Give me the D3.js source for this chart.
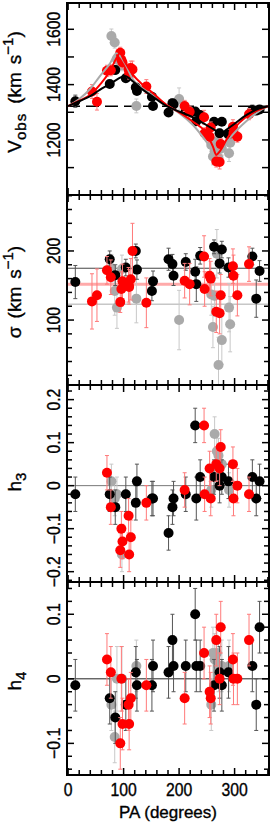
<!DOCTYPE html>
<html>
<head>
<script type="text/javascript" src="https://cdn.jsdelivr.net/npm/d3@7"></script>
<style>
  body { margin: 0; background: #fff; }
  text { font-family: "Liberation Sans", Arial, Helvetica, sans-serif; fill: #000; stroke: #000; stroke-width: 0.35px; }
</style>
</head>
<body>
<script type="text/javascript">

// ---- data ----
var paTicks = [0, 100, 200, 300];
var vTicks = [1200, 1400, 1600];
var sigTicks = [100, 200];
var h3Ticks = [-0.2, -0.1, 0, 0.1, 0.2];
var h4Ticks = [-0.1, 0, 0.1];

var vSys = 1322;
var sigMeanBlack = 175, sigMeanRed = 152, sigMeanGrey = 123;

// model curves (panel 1)
var modelPA    = [0, 20, 40, 57, 75, 87, 93, 102, 117, 135, 153, 177, 201, 225, 249, 261, 267, 273, 277, 285, 297, 321, 345, 360];
var modelBlack = [1322, 1340, 1358, 1381, 1402, 1417, 1424, 1431, 1411, 1381, 1356, 1323, 1302, 1282, 1254, 1240, 1233, 1228, 1226, 1237, 1254, 1290, 1314, 1322];
var modelRed   = [1322, 1342, 1363, 1399, 1447, 1495, 1513, 1483, 1435, 1399, 1369, 1327, 1299, 1266, 1224, 1176, 1146, 1158, 1170, 1200, 1236, 1284, 1310, 1322];
var modelGrey  = [1322, 1348, 1385, 1430, 1475, 1513, 1505, 1478, 1418, 1385, 1362, 1327, 1296, 1254, 1194, 1160, 1146, 1150, 1160, 1188, 1220, 1268, 1305, 1322];

// black series
var blackPA     = [13, 75, 85, 104, 122, 124, 151, 153, 181, 188, 190, 212, 229, 231, 238, 263, 273, 277, 289, 332, 339, 345];
var blackV      = [1340, 1402, 1453, 1423, 1390, 1377, 1356, 1323, 1299, 1333, 1328, 1304, 1303, 1268, 1290, 1266, 1224, 1266, 1220, 1308, 1306, 1310];
var blackVErr   = [22, 12, 15, 10, 12, 12, 12, 12, 10, 15, 12, 12, 12, 12, 12, 12, 15, 12, 12, 18, 12, 12];
var blackSig    = [155, 188, 165, 176, 200, 173, 142, 156, 188, 181, 164, 184, 170, 152, 193, 206, 182, 202, 176, 192, 131, 171];
var blackSigErr = [24, 12, 15, 12, 10, 14, 14, 15, 16, 14, 14, 12, 18, 25, 12, 10, 14, 12, 14, 12, 27, 15];
var blackH3     = [-0.02, -0.02, -0.05, -0.02, -0.04, 0.01, -0.03, -0.03, -0.11, -0.05, -0.03, -0.02, 0.14, -0.03, 0.02, 0.02, 0.00, 0.02, 0.01, 0.02, -0.03, 0.01];
var blackH3Err  = [0.04, 0.04, 0.04, 0.04, 0.04, 0.04, 0.04, 0.04, 0.04, 0.04, 0.04, 0.04, 0.04, 0.05, 0.04, 0.04, 0.04, 0.04, 0.04, 0.04, 0.04, 0.04];
var blackH4     = [-0.01, -0.03, -0.06, -0.04, 0.01, -0.01, -0.01, 0.02, 0.01, 0.06, 0.02, 0.02, 0.10, 0.02, 0.02, -0.01, 0.01, -0.01, 0.01, 0.02, -0.04, 0.08];
var blackH4Err  = [0.04, 0.04, 0.04, 0.04, 0.04, 0.04, 0.04, 0.04, 0.04, 0.04, 0.04, 0.04, 0.04, 0.04, 0.04, 0.04, 0.04, 0.04, 0.04, 0.04, 0.04, 0.04];

// red series
var redPA     = [43, 52, 70, 77, 94, 96, 98, 109, 110, 113, 116, 141, 210, 219, 245, 246, 255, 257, 267, 273, 275, 297, 298, 305, 326];
var redV      = [1375, 1338, 1450, 1452, 1515, 1490, 1480, 1455, 1440, 1460, 1455, 1393, 1323, 1302, 1282, 1224, 1212, 1245, 1122, 1120, 1185, 1248, 1225, 1212, 1293];
var redVErr   = [25, 30, 20, 20, 20, 20, 20, 20, 20, 25, 30, 25, 20, 20, 25, 20, 20, 20, 20, 25, 20, 25, 20, 20, 20];
var redSig    = [127, 136, 172, 162, 126, 145, 156, 151, 148, 159, 200, 125, 157, 152, 192, 145, 164, 160, 112, 110, 136, 178, 164, 136, 181];
var redSigErr = [40, 38, 20, 25, 15, 25, 25, 25, 25, 30, 40, 36, 25, 30, 30, 25, 25, 25, 30, 30, 30, 25, 30, 30, 25];
var redH3     = [null, null, 0.03, -0.05, -0.15, -0.10, -0.13, -0.07, -0.16, -0.12, null, -0.04, -0.01, null, 0.14, -0.02, 0.04, -0.03, 0.05, 0.04, 0.09, 0.05, -0.03, 0.00, -0.02];
var redH3Err  = [null, null, 0.04, 0.04, 0.04, 0.04, 0.04, 0.04, 0.04, 0.04, null, 0.04, 0.04, null, 0.04, 0.04, 0.04, 0.04, 0.04, 0.04, 0.04, 0.04, 0.04, 0.04, 0.04];
var redH4     = [null, null, 0.03, 0.01, -0.10, 0.00, -0.07, -0.04, -0.07, -0.03, null, -0.01, -0.03, null, 0.04, null, -0.02, -0.03, 0.06, 0.00, 0.08, 0.03, 0.00, 0.00, 0.06];
var redH4Err  = [null, null, 0.04, 0.04, 0.04, 0.05, 0.04, 0.04, 0.04, 0.04, null, 0.04, 0.04, null, 0.04, null, 0.04, 0.04, 0.04, 0.04, 0.04, 0.04, 0.04, 0.04, 0.04];

// grey series
var greyPA     = [78, 84, 88, 97, 123, 200, 258, 261, 264, 268, 271, 277, 290, 292];
var greyV      = [1576, 1552, 1490, 1470, 1323, 1348, 1182, 1140, 1160, 1195, 1135, 1170, 1152, 1190];
var greyVErr   = [25, 20, 20, 20, 25, 40, 25, 30, 25, 25, 30, 25, 30, 25];
var greySig    = [175, 142, 118, 174, 131, 100, 137, 90, 135, 196, 35, 71, 118, 94];
var greySigErr = [20, 35, 30, 20, 35, 43, 30, 30, 30, 35, 40, 35, 35, 40];
var greyH3     = [0.01, -0.03, -0.02, -0.16, null, null, -0.01, null, 0.12, 0.08, 0.07, 0.05, -0.01, null];
var greyH3Err  = [0.04, 0.04, 0.04, 0.04, null, null, 0.04, null, 0.04, 0.04, 0.04, 0.04, 0.04, null];
var greyH4     = [-0.04, -0.09, 0.00, 0.00, 0.02, null, -0.04, 0.04, 0.03, 0.04, 0.02, 0.02, 0.02, null];
var greyH4Err  = [0.04, 0.04, 0.05, 0.05, 0.04, null, 0.04, 0.04, 0.04, 0.04, 0.04, 0.04, 0.04, null];

// ---- drawing ----
var svg = d3.select("body").append("svg")
    .attr("width", 273)
    .attr("height", 823);

var x = d3.scaleLinear().domain([-2, 362]).range([67, 269]);

function fmtTick(d) {
  var s = String(Math.round(d * 10) / 10);
  return s.replace("-", "\u2212");
}

var panels = [
  {top: 3,   bottom: 195, domain: [1001, 1695], step: 100,  ticks: vTicks},
  {top: 195, bottom: 385, domain: [6, 281],     step: 20,   ticks: sigTicks},
  {top: 385, bottom: 582, domain: [-0.224, 0.234], step: 0.02, ticks: h3Ticks},
  {top: 582, bottom: 775, domain: [-0.149, 0.150], step: 0.02, ticks: h4Ticks}
];

panels.forEach(function(p, k) {
  p.y = d3.scaleLinear().domain(p.domain).range([p.bottom, p.top]);
  svg.append("clipPath").attr("id", "clip" + k)
    .append("rect")
    .attr("x", x.range()[0]).attr("y", p.top)
    .attr("width", x.range()[1] - x.range()[0])
    .attr("height", p.bottom - p.top);
  p.g = svg.append("g").attr("clip-path", "url(#clip" + k + ")");
});

function drawSeries(g, y, pa, vals, errs, fill, barColor) {
  var pts = [];
  pa.forEach(function(d, i) {
    if (vals[i] !== null) pts.push({pa: d, v: vals[i], e: errs[i]});
  });
  var gb = g.append("g").attr("stroke", barColor).attr("stroke-width", 1);
  gb.selectAll("line.bar").data(pts).enter().append("line")
    .attr("x1", function(d) { return x(d.pa); })
    .attr("x2", function(d) { return x(d.pa); })
    .attr("y1", function(d) { return y(d.v - d.e); })
    .attr("y2", function(d) { return y(d.v + d.e); });
  [-1, 1].forEach(function(s) {
    gb.selectAll("line.cap" + s).data(pts).enter().append("line")
      .attr("x1", function(d) { return x(d.pa) - 2; })
      .attr("x2", function(d) { return x(d.pa) + 2; })
      .attr("y1", function(d) { return y(d.v + s * d.e); })
      .attr("y2", function(d) { return y(d.v + s * d.e); });
  });
  g.append("g").selectAll("circle").data(pts).enter().append("circle")
    .attr("cx", function(d) { return x(d.pa); })
    .attr("cy", function(d) { return y(d.v); })
    .attr("r", 5)
    .style("fill", fill);
}

function hline(g, y, v, color, width, dash) {
  g.append("line")
    .attr("x1", x.range()[0]).attr("x2", x.range()[1])
    .attr("y1", y(v)).attr("y2", y(v))
    .attr("stroke", color).attr("stroke-width", width)
    .attr("stroke-dasharray", dash || null);
}

var GREY = "#aaaaaa", RED = "#ff0000", BLACK = "#000000";
var GREYBAR = "#c8c8c8", REDBAR = "#ff7a7a", BLACKBAR = "#555555";

// panel 1: velocity
var p1 = panels[0];
hline(p1.g, p1.y, vSys, "#000", 1.5, "13,6");
drawSeries(p1.g, p1.y, greyPA, greyV, greyVErr, GREY, GREYBAR);
drawSeries(p1.g, p1.y, blackPA, blackV, blackVErr, BLACK, BLACKBAR);
drawSeries(p1.g, p1.y, redPA, redV, redVErr, RED, REDBAR);
var line = d3.line()
  .x(function(d) { return x(d[0]); })
  .y(function(d) { return p1.y(d[1]); })
  .curve(d3.curveMonotoneX);
[[modelGrey, GREY], [modelRed, RED], [modelBlack, BLACK]].forEach(function(m) {
  p1.g.append("path")
    .datum(modelPA.map(function(d, i) { return [d, m[0][i]]; }))
    .attr("d", line)
    .attr("fill", "none")
    .attr("stroke", m[1])
    .attr("stroke-width", 2);
});

// panel 2: sigma
var p2 = panels[1];
hline(p2.g, p2.y, sigMeanBlack, "#444", 1);
hline(p2.g, p2.y, sigMeanRed, "#ffaaaa", 3);
hline(p2.g, p2.y, sigMeanGrey, "#aaaaaa", 1);
drawSeries(p2.g, p2.y, greyPA, greySig, greySigErr, GREY, GREYBAR);
drawSeries(p2.g, p2.y, blackPA, blackSig, blackSigErr, BLACK, BLACKBAR);
drawSeries(p2.g, p2.y, redPA, redSig, redSigErr, RED, REDBAR);

// panel 3: h3
var p3 = panels[2];
hline(p3.g, p3.y, 0, "#777", 1);
drawSeries(p3.g, p3.y, greyPA, greyH3, greyH3Err, GREY, GREYBAR);
drawSeries(p3.g, p3.y, blackPA, blackH3, blackH3Err, BLACK, BLACKBAR);
drawSeries(p3.g, p3.y, redPA, redH3, redH3Err, RED, REDBAR);

// panel 4: h4
var p4 = panels[3];
hline(p4.g, p4.y, 0, "#222", 1);
drawSeries(p4.g, p4.y, greyPA, greyH4, greyH4Err, GREY, GREYBAR);
drawSeries(p4.g, p4.y, blackPA, blackH4, blackH4Err, BLACK, BLACKBAR);
drawSeries(p4.g, p4.y, redPA, redH4, redH4Err, RED, REDBAR);

// frames, ticks, labels
var x0 = x.range()[0], x1 = x.range()[1];
var xMinor = d3.range(0, 361, 20);

panels.forEach(function(p, k) {
  var fr = svg.append("g").attr("stroke", "#000").attr("fill", "none");
  // x ticks top & bottom (inward)
  xMinor.forEach(function(t) {
    var len = (t % 100 === 0) ? 7 : 5;
    fr.append("line").attr("x1", x(t)).attr("x2", x(t))
      .attr("y1", p.bottom).attr("y2", p.bottom - len).attr("stroke-width", 1.5);
    fr.append("line").attr("x1", x(t)).attr("x2", x(t))
      .attr("y1", p.top).attr("y2", p.top + len).attr("stroke-width", 1.5);
  });
  // y ticks left & right (inward)
  var d0 = p.y.domain()[0], d1 = p.y.domain()[1];
  var n0 = Math.ceil(d0 / p.step - 1e-6), n1 = Math.floor(d1 / p.step + 1e-6);
  for (var n = n0; n <= n1; n++) {
    var v = n * p.step;
    var major = p.ticks.some(function(t) { return Math.abs(t - v) < p.step / 10; }) || k === 0;
    var len = major ? 7 : 5;
    fr.append("line").attr("x1", x0).attr("x2", x0 + len)
      .attr("y1", p.y(v)).attr("y2", p.y(v)).attr("stroke-width", 1.5);
    fr.append("line").attr("x1", x1).attr("x2", x1 - len)
      .attr("y1", p.y(v)).attr("y2", p.y(v)).attr("stroke-width", 1.5);
  }
  fr.append("rect")
    .attr("x", x0).attr("y", p.top)
    .attr("width", x1 - x0).attr("height", p.bottom - p.top)
    .attr("stroke-width", 2);

  svg.append("g").selectAll("text").data(p.ticks).enter().append("text")
    .attr("transform", function(d) { return "translate(59.5," + p.y(d) + ") rotate(-90) scale(0.9,1)"; })
    .attr("text-anchor", "middle")
    .style("font-size", "17.5px")
    .text(fmtTick);
});

// x tick labels
svg.append("g").selectAll("text").data(paTicks).enter().append("text")
  .attr("transform", function(d) { return "translate(" + x(d) + ",796) scale(0.9,1)"; })
  .attr("text-anchor", "middle")
  .style("font-size", "17.5px")
  .text(function(d) { return d; });

svg.append("text")
  .attr("x", x(180)).attr("y", 818)
  .attr("text-anchor", "middle")
  .style("font-size", "17px")
  .text("PA (degrees)");

// y titles
function ytitle(cy, build) {
  var t = svg.append("text")
    .attr("transform", "translate(21," + cy + ") rotate(-90)")
    .attr("text-anchor", "middle")
    .style("font-size", "19px");
  build(t);
}

ytitle(92, function(t) {
  t.append("tspan").text("V");
  t.append("tspan").attr("dy", 5).style("font-size", "15px").style("letter-spacing", "1px").text("obs");
  t.append("tspan").attr("dy", -5).attr("dx", 9).text("(km");
  t.append("tspan").attr("dx", 8).text("s");
  t.append("tspan").attr("dy", -8).style("font-size", "15px").text("\u22121");
  t.append("tspan").attr("dy", 8).text(")");
});
ytitle(292, function(t) {
  t.append("tspan").text("\u03c3");
  t.append("tspan").attr("dx", 8).text("(km");
  t.append("tspan").attr("dx", 8).text("s");
  t.append("tspan").attr("dy", -8).style("font-size", "15px").text("\u22121");
  t.append("tspan").attr("dy", 8).text(")");
});
ytitle(482, function(t) {
  t.append("tspan").text("h");
  t.append("tspan").attr("dy", 5).style("font-size", "15px").text("3");
});
ytitle(681, function(t) {
  t.append("tspan").text("h");
  t.append("tspan").attr("dy", 5).style("font-size", "15px").text("4");
});

</script>
</body>
</html>
